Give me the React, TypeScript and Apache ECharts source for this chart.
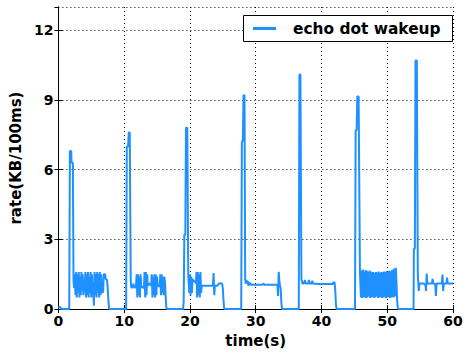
import React, { useEffect, useRef } from "react";
import * as echarts from "echarts";

const xTicks = [0, 10, 20, 30, 40, 50, 60];
const yTicks = [0, 3, 6, 9, 12];
const seriesName = "echo dot wakeup";

const burst1: number[][] = [
  [0, 0.1], [0.3, 0.08], [0.5, 0], [1.65, 0], [1.75, 6.8], [1.95, 6.8], [2.0, 6.3], [2.2, 6.3], [2.3, 1.2],
  [2.4, 0.9], [2.5, 1.5], [2.6, 0.6], [2.7, 1.6], [2.8, 0.5], [2.9, 1.5], [3.0, 0.7], [3.1, 1.6], [3.2, 0.5],
  [3.3, 1.4], [3.4, 0.6], [3.5, 1.6], [3.6, 0.8], [3.7, 1.5], [3.8, 0.6],
  [3.9, 0.9], [4.0, 0.95],
  [4.1, 1.6], [4.2, 0.5], [4.3, 1.5], [4.4, 0.6], [4.5, 1.6], [4.6, 0.5], [4.7, 1.4], [4.8, 0.7], [4.9, 1.6],
  [5.0, 0.5], [5.1, 1.5],
  [5.2, 0.9], [5.3, 0.85], [5.4, 0.15],
  [5.5, 1.6], [5.6, 0.6], [5.7, 1.5], [5.8, 0.5], [5.9, 1.6], [6.0, 0.7], [6.1, 1.5], [6.2, 0.5], [6.3, 1.6],
  [6.4, 0.6], [6.5, 1.5],
  [6.6, 0.8], [6.7, 0.7], [6.8, 0.75],
  [6.9, 1.5], [7.1, 1.5], [7.2, 1.3], [7.4, 1.25], [7.5, 0.9], [7.6, 0.4], [7.7, 0.05], [7.8, 0], [10.3, 0],
];

const burst2: number[][] = [
  [10.4, 7.0], [10.6, 7.0], [10.7, 7.6], [10.85, 7.6], [11.0, 1.2], [11.1, 0.9], [11.2, 1.0], [11.3, 0.9],
  [11.4, 1.1], [11.5, 0.95], [11.6, 1.0], [11.7, 0.9], [11.8, 1.0],
  [11.9, 1.5], [12.0, 0.5], [12.1, 1.5], [12.2, 0.6], [12.3, 1.4], [12.4, 0.5], [12.5, 1.5],
  [12.6, 0.95], [12.8, 0.95], [13.0, 0.9],
  [13.1, 1.6], [13.2, 0.5], [13.3, 1.6], [13.4, 0.6], [13.5, 1.5],
  [13.6, 1.0], [13.8, 1.1], [14.0, 1.05], [14.1, 1.0],
  [14.2, 1.5], [14.3, 0.5], [14.4, 1.4], [14.5, 0.6], [14.6, 1.5], [14.7, 0.5], [14.8, 1.5], [14.9, 0.6], [15.0, 1.4],
  [15.1, 1.0], [15.3, 1.0], [15.4, 0.95],
  [15.5, 1.5], [15.6, 0.6], [15.7, 1.5], [15.8, 0.7], [15.9, 1.4], [16.0, 0.6], [16.1, 1.4], [16.2, 1.2],
  [16.3, 0.6], [16.4, 0.1], [16.5, 0], [18.95, 0],
];

const burst3: number[][] = [
  [19.05, 0.3], [19.15, 3.2], [19.3, 3.2], [19.4, 7.8], [19.6, 7.8], [19.75, 1.4], [19.9, 0.7], [20.0, 1.5],
  [20.1, 0.6], [20.2, 1.4], [20.3, 0.7], [20.4, 1.3], [20.5, 1.2], [20.6, 1.2], [20.8, 1.2], [20.9, 1.1],
  [21.0, 1.6], [21.1, 0.5], [21.2, 1.6], [21.3, 0.6], [21.4, 1.5], [21.5, 0.5], [21.6, 1.6], [21.7, 0.7],
  [21.8, 1.0], [22.5, 1.0], [23.0, 1.0], [23.5, 1.0],
  [23.6, 1.55], [23.7, 0.6], [23.8, 1.0],
  [24.2, 1.0], [24.4, 1.1], [24.9, 1.1], [25.0, 0.9], [25.1, 0.4], [25.2, 0.05], [25.3, 0], [27.8, 0],
];

const burst4: number[][] = [
  [27.9, 7.2], [28.05, 7.25], [28.15, 9.2], [28.3, 9.2], [28.4, 1.3], [28.5, 1.1], [28.6, 1.25], [28.7, 1.1],
  [28.8, 1.2], [28.9, 1.0], [29.0, 1.15], [29.1, 1.05], [29.2, 1.1], [29.4, 1.05], [31.0, 1.05], [31.2, 1.1],
  [31.3, 1.05], [33.3, 1.05], [33.4, 0.57], [33.5, 1.6], [33.6, 1.2], [33.7, 1.0], [33.8, 0.9], [33.9, 0.3],
  [34.0, 0], [36.55, 0],
];

const burst5: number[][] = [
  [36.65, 10.1], [36.8, 10.1], [36.95, 1.3], [37.1, 1.1], [37.3, 1.1], [37.5, 1.25], [37.6, 1.1], [38.0, 1.1],
  [38.1, 1.25], [38.2, 1.1], [38.5, 1.1], [38.6, 1.22], [38.7, 1.1], [39.5, 1.08], [40.5, 1.08], [41.7, 1.08],
  [41.8, 1.15], [42.0, 1.15], [42.1, 0.8], [42.2, 0.2], [42.3, 0], [45.1, 0],
];

const burst6: number[][] = [
  [45.2, 7.7], [45.35, 7.7], [45.45, 9.15], [45.65, 9.15], [45.85, 1.6],
  [46.0, 0.5], [46.1, 1.65], [46.2, 0.48], [46.3, 1.7], [46.4, 0.5], [46.5, 1.62], [46.6, 0.52], [46.7, 1.68],
  [46.8, 0.47], [46.9, 1.65], [47.0, 0.5], [47.1, 1.6], [47.2, 0.55], [47.3, 1.66], [47.4, 0.48], [47.5, 1.62],
  [47.6, 0.5], [47.7, 1.58], [47.8, 0.52], [47.9, 1.6], [48.0, 0.49], [48.1, 1.55], [48.2, 0.5], [48.3, 1.6],
  [48.4, 0.55], [48.5, 1.57], [48.6, 0.48], [48.7, 1.62], [48.8, 0.5], [48.9, 1.55], [49.0, 0.52], [49.1, 1.6],
  [49.2, 0.48], [49.3, 1.58], [49.4, 0.5], [49.5, 1.62], [49.6, 0.53], [49.7, 1.6], [49.8, 0.47], [49.9, 1.63],
  [50.0, 0.5], [50.1, 1.6], [50.2, 0.52], [50.3, 1.65], [50.4, 0.48], [50.5, 1.62], [50.6, 0.5], [50.7, 1.68],
  [50.8, 0.52], [50.9, 1.7], [51.0, 0.5], [51.1, 1.75], [51.2, 0.55], [51.3, 1.78], [51.4, 1.2], [51.5, 0.4],
  [51.6, 0.05], [51.7, 0], [54.0, 0],
];

const burst7: number[][] = [
  [54.05, 2.6], [54.2, 2.6], [54.3, 10.7], [54.5, 10.7], [54.65, 1.5], [54.8, 0.78], [54.9, 1.1], [55.5, 1.1],
  [55.8, 1.05], [55.9, 0.78], [56.0, 1.53], [56.1, 1.1], [56.8, 1.1], [56.9, 1.3], [57.0, 1.1], [57.3, 1.08],
  [57.4, 0.57], [57.5, 1.1], [58.3, 1.1], [58.4, 1.49], [58.5, 0.78], [58.6, 1.1], [59.0, 1.1], [59.1, 1.35],
  [59.2, 1.1], [60, 1.1],
];

const rateData = [...burst1, ...burst2, ...burst3, ...burst4, ...burst5, ...burst6, ...burst7];

const FONT = "DejaVu Sans";

export default function App() {
  const ref = useRef<HTMLDivElement>(null);
  useEffect(() => {
    if (!ref.current) return;
    const chart = echarts.init(ref.current, undefined, { renderer: "svg" });
    const gridLine = { show: true, lineStyle: { color: "#000", type: [1, 3] as any, width: 1 } };
    const frameLine = { show: true, lineStyle: { color: "#000", width: 1 } };
    const tick = { show: true, inside: true, length: 4, lineStyle: { color: "#000" } };
    const labelStyle = { color: "#000", fontFamily: FONT, fontWeight: "bold" as const, fontSize: 14 };
    chart.setOption({
      animation: false,
      backgroundColor: "#fff",
      grid: { left: 58, right: 13, top: 7, bottom: 41, containLabel: false },
      xAxis: [
        {
          type: "value",
          min: xTicks[0],
          max: xTicks[xTicks.length - 1],
          interval: 10,
          name: "time(s)",
          nameLocation: "middle",
          nameGap: 21,
          nameTextStyle: { color: "#000", fontFamily: FONT, fontWeight: "bold", fontSize: 15 },
          axisLine: frameLine,
          axisTick: tick,
          axisLabel: { ...labelStyle, margin: 5 },
          splitLine: gridLine,
        },
        {
          type: "value",
          position: "top",
          min: xTicks[0],
          max: xTicks[xTicks.length - 1],
          interval: 10,
          axisLine: frameLine,
          axisTick: tick,
          axisLabel: { show: false },
          splitLine: { show: false },
        },
      ],
      yAxis: [
        {
          type: "value",
          min: yTicks[0],
          max: 13,
          interval: 3,
          name: "rate(KB/100ms)",
          nameLocation: "middle",
          nameGap: 27,
          nameTextStyle: { color: "#000", fontFamily: FONT, fontWeight: "bold", fontSize: 15 },
          axisLine: frameLine,
          axisTick: tick,
          axisLabel: { ...labelStyle, margin: 5, showMaxLabel: false },
          splitLine: gridLine,
        },
        {
          type: "value",
          position: "right",
          min: yTicks[0],
          max: 13,
          interval: 3,
          axisLine: frameLine,
          axisTick: tick,
          axisLabel: { show: false },
          splitLine: { show: false },
        },
      ],
      series: [
        {
          name: seriesName,
          type: "line",
          data: rateData,
          showSymbol: false,
          symbol: "none",
          lineStyle: { color: "#1e90ff", width: 2 },
          itemStyle: { color: "#1e90ff" },
          clip: true,
        },
      ],
      graphic: [
        {
          type: "rect",
          shape: { x: 243.5, y: 15.5, width: 209, height: 26 },
          style: { fill: "#fff", stroke: "#000", lineWidth: 1 },
          z: 100,
        },
        {
          type: "line",
          shape: { x1: 253, y1: 28.5, x2: 276, y2: 28.5 },
          style: { stroke: "#1e90ff", lineWidth: 3 },
          z: 101,
        },
        {
          type: "text",
          x: 293,
          y: 28.5,
          style: {
            text: seriesName,
            fill: "#000",
            font: `bold 15.4px "${FONT}"`,
            textVerticalAlign: "middle",
            verticalAlign: "middle",
          } as any,
          z: 101,
        },
      ],
    });
    return () => chart.dispose();
  }, []);
  return <div ref={ref} style={{ width: 466, height: 353, position: "absolute", left: 0, top: 0 }} />;
}
